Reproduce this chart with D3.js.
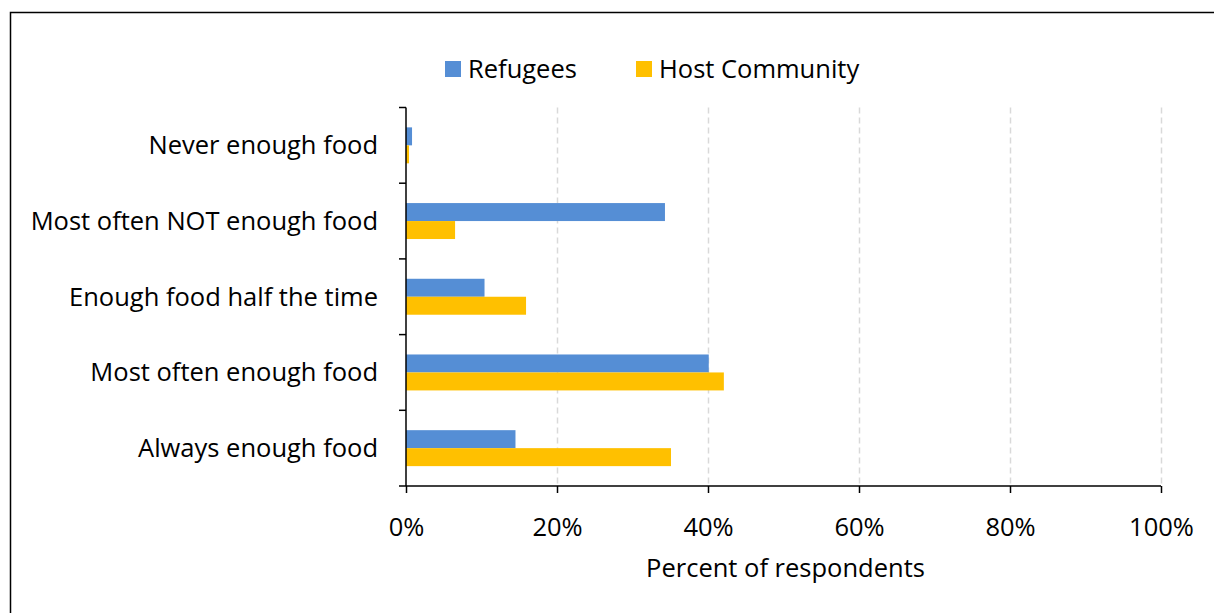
<!DOCTYPE html>
<html><head><meta charset="utf-8">
<script src="https://cdn.jsdelivr.net/npm/d3@7"></script>
<style>body{margin:0;background:#fff}svg{display:block}</style>
</head><body>
<svg id="c" width="1214" height="613"></svg>
<script>
const categories = ["Never enough food","Most often NOT enough food","Enough food half the time","Most often enough food","Always enough food"];
const seriesNames = ["Refugees","Host Community"];
const refugees = [0.8, 34.3, 10.4, 40.1, 14.5];
const host = [0.4, 6.5, 15.9, 42.1, 35.1];
const xTicks = [0,20,40,60,80,100];
const colors = ["#558ED5","#FFC000"];
const font = "'Open Sans', sans-serif";
const fs = 25.5;

const svg = d3.select("#c");
svg.append("rect").attr("x",10.5).attr("y",12.5).attr("width",1220).attr("height",620)
  .attr("fill","none").attr("stroke","#000").attr("stroke-width",1.5);

const m = {l:406, r:1161, t:107.5, b:486};
const x = d3.scaleLinear().domain([0,100]).range([m.l,m.r]);
const y = d3.scaleBand().domain(categories).range([m.t,m.b]).paddingInner(0.525).paddingOuter(0.2625);
const y0 = d3.scaleBand().domain(categories).range([m.t,m.b]);
const sub = d3.scaleBand().domain(seriesNames).range([0,y.bandwidth()]);

// gridlines
svg.append("g").selectAll("line").data(xTicks.slice(1)).join("line")
  .attr("x1",d=>x(d)+0.5).attr("x2",d=>x(d)+0.5).attr("y1",m.t).attr("y2",m.b)
  .attr("stroke","#D9D9D9").attr("stroke-width",1.5).attr("stroke-dasharray","6,4");

// bars
const data = categories.map((c,i)=>({c, vals:[refugees[i], host[i]]}));
const g = svg.append("g");
data.forEach(d=>{
  d.vals.forEach((v,j)=>{
    g.append("rect").attr("x",x(0)).attr("y",y(d.c)+sub(seriesNames[j]))
      .attr("width",x(v)-x(0)).attr("height",sub.bandwidth()).attr("fill",colors[j]);
  });
});

// y axis
const ya = svg.append("g").attr("transform",`translate(${m.l},0)`);
ya.append("line").attr("x1",0).attr("x2",0).attr("y1",m.t).attr("y2",m.b).attr("stroke","#000").attr("stroke-width",1.5);
const yt = categories.map(c=>y0(c)).concat([m.b]);
ya.selectAll(".t").data(yt).join("line").attr("x1",-7).attr("x2",0).attr("y1",d=>d).attr("y2",d=>d).attr("stroke","#000").attr("stroke-width",1.5);
ya.selectAll("text").data(categories).join("text")
  .attr("x",-28).attr("y",d=>y0(d)+y0.bandwidth()/2).attr("dy","0.35em")
  .attr("text-anchor","end").attr("font-family",font).attr("font-size",fs).attr("fill","#000").text(d=>d);

// x axis
const xa = svg.append("g").attr("transform",`translate(0,${m.b})`)
  .call(d3.axisBottom(x).tickValues(xTicks).tickSize(7).tickFormat(d=>d+"%"));
xa.select(".domain").attr("stroke","#000").attr("stroke-width",1.5).attr("d",`M${m.l},0H${m.r}`);
xa.selectAll(".tick line").attr("stroke","#000").attr("stroke-width",1.5);
xa.selectAll(".tick text").attr("font-family",font).attr("font-size",fs).attr("fill","#000").attr("y",41).attr("dy","0.35em");
svg.append("text").attr("x",(m.l+m.r)/2+2).attr("y",568).attr("dy","0.35em").attr("text-anchor","middle")
  .attr("font-family",font).attr("font-size",fs).text("Percent of respondents");

// legend
const leg = svg.append("g");
const lx = [445, 636];
seriesNames.forEach((s,i)=>{
  leg.append("rect").attr("x",lx[i]).attr("y",61).attr("width",16).attr("height",16).attr("fill",colors[i]);
  leg.append("text").attr("x",lx[i]+23).attr("y",69).attr("dy","0.35em").attr("font-family",font).attr("font-size",fs).text(s);
});
</script>
</body></html>
